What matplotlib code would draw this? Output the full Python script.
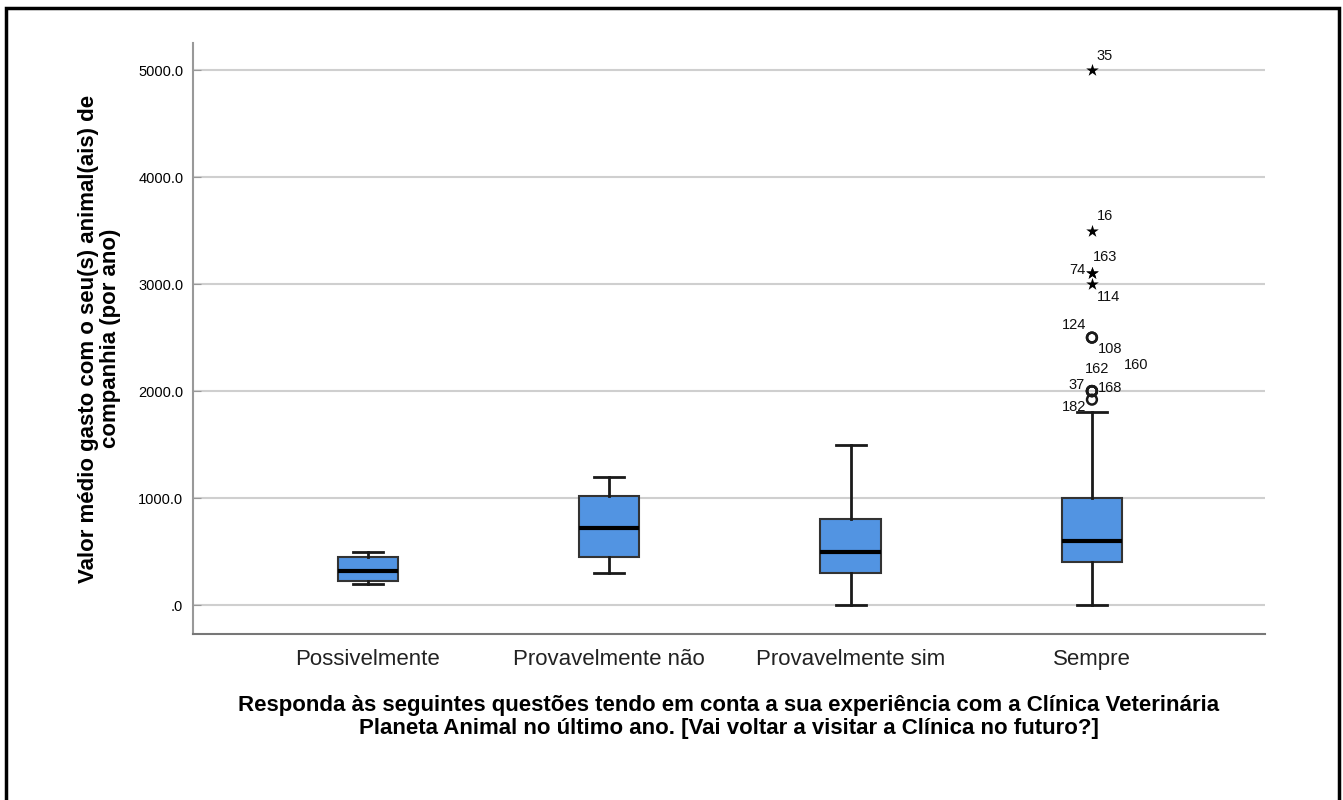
import matplotlib
matplotlib.use("Agg")
import matplotlib.pyplot as plt
from matplotlib.patches import Rectangle

plt.rcParams['font.family'] = ['Liberation Sans', 'DejaVu Sans']

# Summary statistics per answer group
categories = ["Possivelmente", "Provavelmente não", "Provavelmente sim", "Sempre"]
whisker_low = [200, 300, 0, 0]
q1 = [225, 450, 300, 400]
median = [320, 720, 500, 600]
q3 = [450, 1020, 800, 1000]
whisker_high = [500, 1200, 1500, 1800]

# Outlying cases in the "Sempre" group (case number, value)
extreme_ids = [35, 16, 163, 74, 114]
extreme_vals = [5000, 3500, 3100, 3100, 3000]
outlier_ids = [124, 108, 162, 160, 37, 168, 182]
outlier_vals = [2500, 2500, 2000, 2000, 2000, 2000, 1920]

yticks = [0, 1000, 2000, 3000, 4000, 5000]
ytick_labels = [".0", "1000.0", "2000.0", "3000.0", "4000.0", "5000.0"]

# where each case label sits around its marker (pixels, ha)
label_offsets = {
    35: (5, 14, "left"), 16: (5, 15, "left"), 163: (1, 16, "left"),
    74: (-6, 3, "right"), 114: (5, -13, "left"), 124: (-6, 13, "right"),
    108: (6, -11, "left"), 162: (-7, 22, "left"), 160: (32, 26, "left"),
    37: (-7, 6, "right"), 168: (6, 3, "left"), 182: (-6, -7, "right"),
}

fig = plt.figure(figsize=(13.43, 8), dpi=100)
ax = fig.add_axes([0.1437, 0.2075, 0.7982, 0.7385])

stats = []
for i, name in enumerate(categories):
    stats.append({
        "label": name, "whislo": whisker_low[i], "q1": q1[i], "med": median[i],
        "q3": q3[i], "whishi": whisker_high[i], "fliers": [],
    })

ax.bxp(stats, positions=range(len(categories)), widths=0.25, patch_artist=True,
       showfliers=False,
       boxprops=dict(facecolor="#5294e2", edgecolor="#333333", linewidth=1.5),
       medianprops=dict(color="black", linewidth=3),
       whiskerprops=dict(color="#1a1a1a", linewidth=2),
       capprops=dict(color="#1a1a1a", linewidth=2),
       capwidths=0.125, zorder=3)

pos = len(categories) - 1
ax.scatter([pos] * len(extreme_vals), extreme_vals, marker="*", s=90,
           color="black", linewidths=0, zorder=4)
ax.scatter([pos] * len(outlier_vals), outlier_vals, marker="o", s=50,
           facecolors="none", edgecolors="#1a1a1a", linewidths=1.8, zorder=4)

for cid, val in zip(extreme_ids + outlier_ids, extreme_vals + outlier_vals):
    dx, dy, ha = label_offsets[cid]
    ax.annotate(str(cid), (pos, val), xytext=(dx, dy), textcoords="offset pixels",
                ha=ha, va="center", fontsize=10.5, color="#111111", zorder=5)

ax.set_xlim(-0.725, 3.717)
ax.set_ylim(-271, 5252)
ax.set_yticks(yticks)
ax.set_yticklabels(ytick_labels, fontsize=10.5)
ax.set_xticks(range(len(categories)))
ax.set_xticklabels(categories, fontsize=16, color="#222222")
ax.tick_params(axis="x", length=0, pad=11)
ax.tick_params(axis="y", length=6, direction="in", color="#999999", pad=7)

ax.yaxis.grid(True, color="#cfcfcf", linewidth=1.5)
ax.set_axisbelow(True)
for side in ["top", "right"]:
    ax.spines[side].set_visible(False)
ax.spines["left"].set_color("#999999")
ax.spines["bottom"].set_color("#777777")
ax.spines["left"].set_linewidth(1.5)
ax.spines["bottom"].set_linewidth(1.5)

ax.set_ylabel("Valor médio gasto com o seu(s) animal(ais) de\ncompanhia (por ano)",
              fontsize=16, fontweight="bold", labelpad=12, linespacing=1.1)
ax.set_xlabel("Responda às seguintes questões tendo em conta a sua experiência com a Clínica Veterinária\n"
              "Planeta Animal no último ano. [Vai voltar a visitar a Clínica no futuro?]",
              fontsize=16, fontweight="bold", labelpad=18, linespacing=1.1)

# outer frame around the whole chart
fig.patches.append(Rectangle((6 / 1343, -0.05), 1333 / 1343, 1.04,
                             transform=fig.transFigure, fill=False,
                             edgecolor="black", linewidth=2.5))

fig.savefig("out.png", dpi=100)
